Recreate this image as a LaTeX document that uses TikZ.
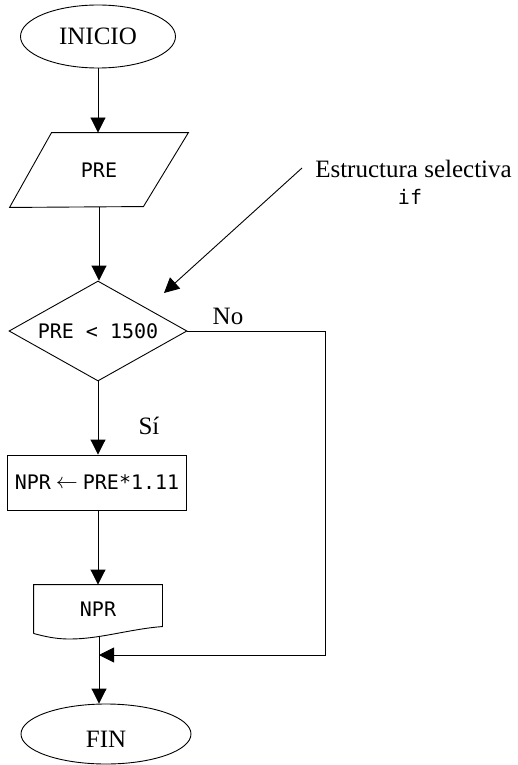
\documentclass[tikz,border=0pt]{standalone}
\usepackage{graphicx}
\usepackage{fontspec}
\setmainfont{Liberation Serif}
\newfontfamily\monof{DejaVu Sans Mono}
\usetikzlibrary{shapes.geometric,arrows.meta}
\begin{document}
\begin{tikzpicture}[x=1pt,y=-1pt,
  line width=0.9pt,
  arr/.style={-{Triangle[length=15pt,width=15pt]}},
  serif/.style={font=\fontsize{25}{28}\selectfont},
  code/.style={font=\monof\fontsize{20}{23}\selectfont},
  term/.style={draw, ellipse, inner sep=0pt, serif},
  plainbox/.style={inner sep=0pt, code}
]
\useasboundingbox (0,0) rectangle (518,765);

% nodes
\node[term, minimum width=155pt, minimum height=63pt] (inicio) at (98,36.5) {INICIO};
\node[plainbox, minimum width=178pt, minimum height=74pt] (pre) at (99,170) {PRE};
\draw (pre.north west) ++(42,0) -- (pre.north east) -- ++(-45,74) -- (pre.south west) -- cycle;
\node[draw, diamond, inner sep=0pt, aspect=1.78, minimum width=178pt, minimum height=100pt, code] (dia) at (98,331) {PRE < 1500};
\node[draw, plainbox, minimum width=179pt, minimum height=55pt] (calc) at (97,482.5) {NPR\hspace{5pt}\raisebox{1pt}{\resizebox{22pt}{!}{$\leftarrow$}}\hspace{5pt}PRE*1.11};
\node[plainbox, minimum width=128pt, minimum height=48pt] (doc) at (98,609) {NPR};
\draw (doc.south west) -- (doc.north west) -- (doc.north east) -- ++(0,42)
  .. controls (130,629) and (100,639) .. (70,639)
  .. controls (60,639) and (50,638) .. (doc.south west);
\node[draw, ellipse, inner sep=0pt, minimum width=170pt, minimum height=60pt] (fin) at (106,734) {};
\node[serif, anchor=base] (fint) at (106,747) {FIN};

\node[serif, anchor=base] (est) at (413.5,177) {Estructura selectiva};
\node[code, anchor=base] (ifl) at (410,204) {if};
\node[serif] (no) at (228,316) {No};
\node[serif] (si) at (149,426) {Sí};

\coordinate (p1) at (302,168);
\coordinate (p2) at (164,293);
\coordinate (docb) at (99,637);
\coordinate (mg) at (99,655);
\coordinate (cr) at (325,655);

% connectors
\draw[arr] (inicio.south) -- (inicio.south |- pre.north);
\draw[arr] (pre.south) -- (pre.south |- dia.north);
\draw[arr] (dia.south) -- (dia.south |- calc.north);
\draw[arr] (calc.south -| doc.north) -- (doc.north);
\draw[arr] (docb) -- (docb |- fin.north);
\draw[arr] (dia.east) -| (cr) -- (mg);
\draw[arr] (p1) -- (p2);
\end{tikzpicture}
\end{document}
